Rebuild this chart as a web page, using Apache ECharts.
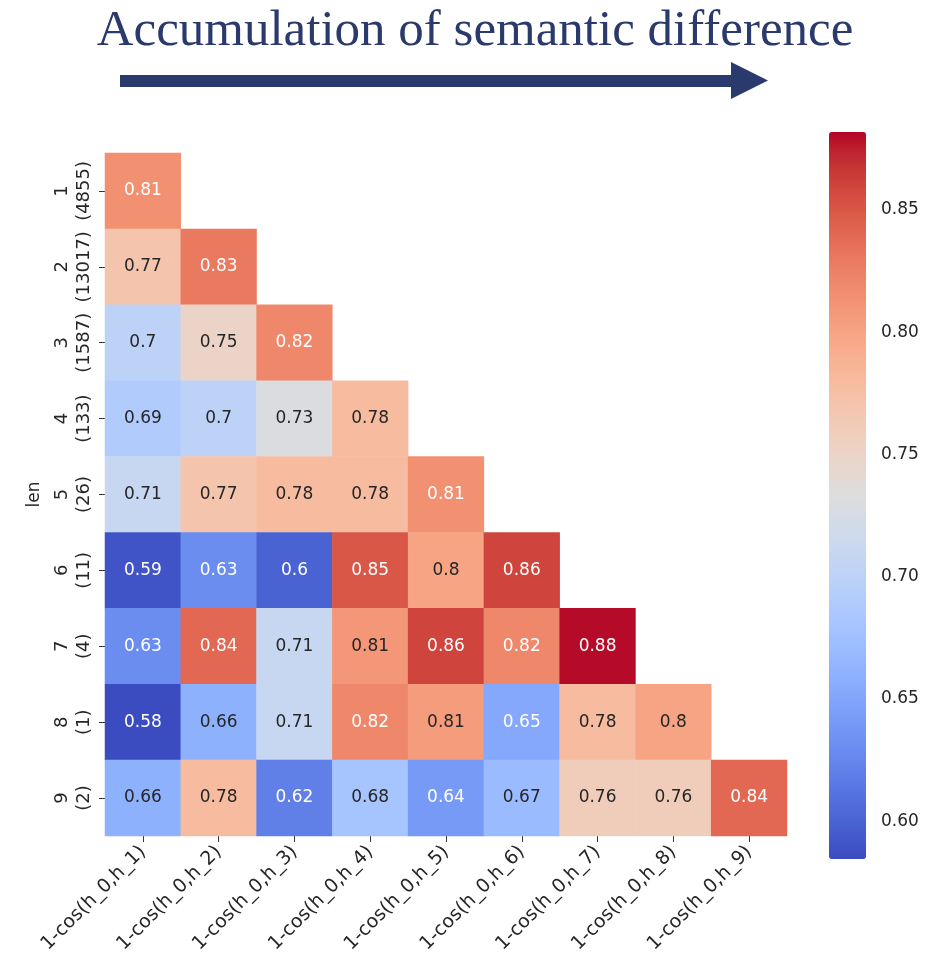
<!DOCTYPE html>
<html><head><meta charset="utf-8">
<script src="https://cdn.jsdelivr.net/npm/echarts@6/dist/echarts.min.js"></script>
<style>html,body{margin:0;padding:0;background:#fff}#c{width:941px;height:966px}</style>
</head><body><div id="c"></div>
<script>
// ---- data ----
const xLabels = ['1-cos(h_0,h_1)','1-cos(h_0,h_2)','1-cos(h_0,h_3)','1-cos(h_0,h_4)','1-cos(h_0,h_5)','1-cos(h_0,h_6)','1-cos(h_0,h_7)','1-cos(h_0,h_8)','1-cos(h_0,h_9)'];
const yLabels = ['1\n(4855)','2\n(13017)','3\n(1587)','4\n(133)','5\n(26)','6\n(11)','7\n(4)','8\n(1)','9\n(2)'];
const yName = 'len';
const row1 = [0.8149];
const row2 = [0.77, 0.83];
const row3 = [0.70, 0.75, 0.82];
const row4 = [0.69, 0.70, 0.73, 0.78];
const row5 = [0.71, 0.77, 0.78, 0.78, 0.8149];
const row6 = [0.59, 0.63, 0.60, 0.85, 0.80, 0.86];
const row7 = [0.63, 0.84, 0.71, 0.81, 0.86, 0.82, 0.88];
const row8 = [0.58, 0.66, 0.71, 0.82, 0.806, 0.652, 0.78, 0.80];
const row9 = [0.66, 0.78, 0.62, 0.68, 0.64, 0.67, 0.76, 0.76, 0.84];
const rows = [row1,row2,row3,row4,row5,row6,row7,row8,row9];
const colorbarTicks = [0.60, 0.65, 0.70, 0.75, 0.80, 0.85];
const scaleMin = 0.5846, scaleMax = 0.8819;
const titleText = 'Accumulation of semantic difference';

// coolwarm colormap stops
const coolwarm = [[59,76,192],[68,90,204],[77,104,215],[87,117,225],[98,130,234],[108,142,241],[119,154,247],[130,165,251],[141,176,254],[152,185,255],[163,194,255],[174,201,253],[184,208,249],[194,213,244],[204,217,238],[213,219,230],[221,221,221],[229,216,209],[236,211,197],[241,204,184],[245,196,172],[247,187,159],[247,177,147],[247,166,134],[244,154,123],[241,141,111],[236,127,99],[229,112,89],[222,96,77],[213,80,66],[203,62,56],[192,40,47],[180,4,38]];
const cwHex = coolwarm.map(c => 'rgb(' + c.join(',') + ')');

function cmap(v){
  let t = (v - scaleMin)/(scaleMax - scaleMin);
  t = Math.max(0, Math.min(1, t));
  const f = t*(coolwarm.length-1);
  const i = Math.min(coolwarm.length-2, Math.floor(f));
  const r = f - i;
  return coolwarm[i].map((c,k) => c + (coolwarm[i+1][k]-c)*r);
}
function lum(rgb){
  const l = rgb.map(c => { c = c/255; return c <= 0.03928 ? c/12.92 : Math.pow((c+0.055)/1.055, 2.4); });
  return 0.2126*l[0] + 0.7152*l[1] + 0.0722*l[2];
}

const data = [];
rows.forEach((row, i) => row.forEach((v, j) => {
  data.push({ value: [j, i, v], label: { color: lum(cmap(v)) > 0.408 ? '#262626' : '#ffffff' } });
}));

const navy = '#2b3a6c';
const chart = echarts.init(document.getElementById('c'), null, {renderer: 'canvas'});
chart.setOption({
  animation: false,
  backgroundColor: '#ffffff',
  textStyle: { fontFamily: 'DejaVu Sans' },
  grid: [
    { left: 105, top: 153, width: 682, height: 683 },
    { left: 829, top: 132, width: 37, height: 727 }
  ],
  xAxis: [
    { type: 'category', gridIndex: 0, data: xLabels,
      axisLine: { show: false }, splitLine: { show: false },
      axisTick: { show: true, alignWithLabel: true, length: 6, lineStyle: { color: '#333' } },
      axisLabel: { interval: 0, rotate: 45, fontSize: 19, color: '#262626', margin: 13 } },
    { type: 'value', gridIndex: 1, show: false, min: 0, max: 1 }
  ],
  yAxis: [
    { type: 'category', gridIndex: 0, data: yLabels, inverse: true,
      name: yName, nameLocation: 'middle', nameGap: 62, nameRotate: 90,
      nameTextStyle: { fontSize: 17, color: '#262626' },
      axisLine: { show: false }, splitLine: { show: false },
      axisTick: { show: true, alignWithLabel: true, length: 6, lineStyle: { color: '#333' } },
      axisLabel: { interval: 0, rotate: 90, fontSize: 18, lineHeight: 22, color: '#262626', margin: 10 } },
    { type: 'value', gridIndex: 1, position: 'right', min: scaleMin, max: scaleMax,
      axisLine: { show: false }, splitLine: { show: false },
      axisTick: { show: true, length: 7, customValues: colorbarTicks, lineStyle: { color: '#333' } },
      axisLabel: { customValues: colorbarTicks, formatter: v => v.toFixed(2), fontSize: 17, color: '#262626', margin: 15 } }
  ],
  visualMap: [{
    type: 'continuous', min: scaleMin, max: scaleMax, seriesIndex: 0,
    inRange: { color: cwHex }, calculable: false, text: null, padding: 0,
    left: 829, top: 132, itemWidth: 37, itemHeight: 727, hoverLink: false
  }],
  series: [{
    type: 'heatmap', xAxisIndex: 0, yAxisIndex: 0, data: data,
    itemStyle: { borderWidth: 0 },
    label: { show: true, fontSize: 17, fontFamily: 'DejaVu Sans',
      formatter: p => String(Number(p.value[2].toPrecision(2))) }
  }],
  graphic: [
    { type: 'text', style: { text: titleText, x: 475, y: 32, align: 'center', verticalAlign: 'middle',
        font: '51px "Liberation Serif"', fill: navy } },
    { type: 'polygon', shape: { points: [[120,75],[731,75],[731,62],[768,80.5],[731,99],[731,87],[120,87]] },
      style: { fill: navy } }
  ]
});
</script>
</body></html>
